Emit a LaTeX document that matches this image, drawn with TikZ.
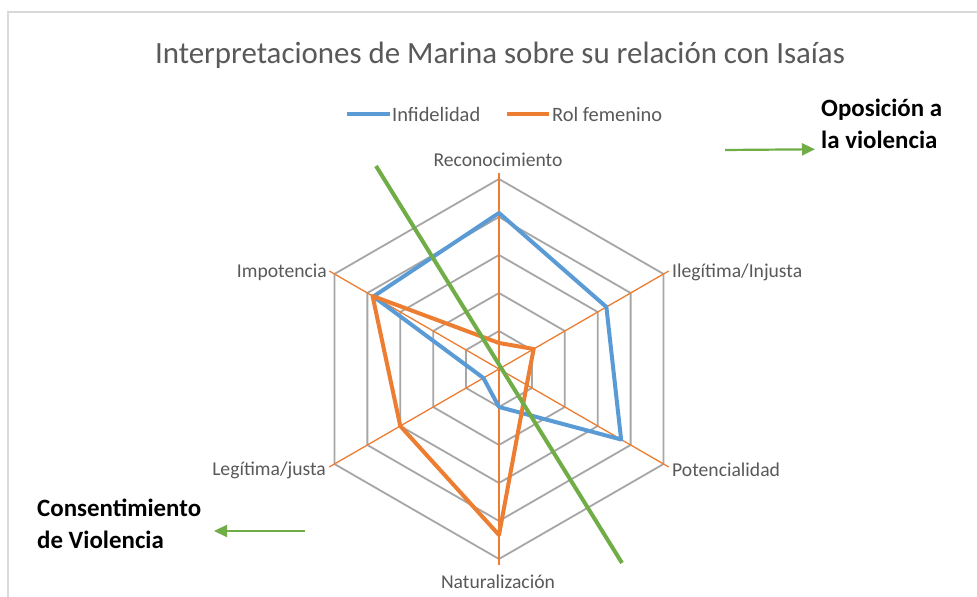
\documentclass[tikz,border=0pt]{standalone}
\usepackage{fontspec}
\setmainfont{Carlito}
\usetikzlibrary{arrows.meta,calc}
\definecolor{gridgray}{HTML}{A6A6A6}
\definecolor{axorange}{HTML}{ED7D31}
\definecolor{serblue}{HTML}{5B9BD5}
\definecolor{greenl}{HTML}{70AD47}
\definecolor{txtgray}{HTML}{595959}
\definecolor{framegray}{HTML}{D9D9D9}
\tikzset{
  gridline/.style={draw=gridgray, line width=1.8bp, line join=miter},
  spoke/.style={draw=axorange, line width=1.3bp},
  blueser/.style={draw=serblue, line width=4bp, line join=round, line cap=round},
  orangeser/.style={draw=axorange, line width=4bp, line join=round, line cap=round},
  greenline/.style={draw=greenl, line width=4bp},
  greenarrow/.style={draw=greenl, line width=2.2bp, -{Triangle[length=13bp,width=12bp]}},
  axlabel/.style={text=txtgray, font=\fontsize{19.7}{22}\selectfont, inner sep=0pt},
  leglabel/.style={text=txtgray, font=\fontsize{20.5}{23}\selectfont, inner sep=0pt},
  note/.style={text=black, font=\bfseries\fontsize{25}{32}\selectfont, align=left, inner sep=0pt},
}
\begin{document}
\begin{tikzpicture}[x=1bp,y=1bp]
\useasboundingbox (0,0) rectangle (977,597);
\fill[white] (0,0) rectangle (977,597);
\draw[framegray, line width=1.5bp] (8,0) -- (8,585) -- (977,585);

% title
\node[text=txtgray, font=\fontsize{31}{36}\selectfont, inner sep=0pt] (title) at (500,542) {Interpretaciones de Marina sobre su relación con Isaías};

% legend
\coordinate (lb1) at (347,483); \coordinate (lb2) at (390,483);
\draw[blueser, line cap=butt] (lb1) -- (lb2);
\node[leglabel, anchor=west] (legb) at (392,483) {Infidelidad};
\coordinate (lo1) at (507,483); \coordinate (lo2) at (549,483);
\draw[orangeser, line cap=butt] (lo1) -- (lo2);
\node[leglabel, anchor=west] (lego) at (552,483) {Rol femenino};

\begin{scope}[shift={(499,228)}]
  \coordinate (C) at (0,0);
  % rings
  \foreach \r in {38,76,114,152,190} {
    \draw[gridline] (90:\r bp) -- (30:\r bp) -- (-30:\r bp) -- (-90:\r bp) -- (210:\r bp) -- (150:\r bp) -- cycle;
  }
  % spokes
  \foreach \a/\n in {90/rec,30/ile,-30/pot,-90/nat,210/leg,150/imp} {
    \coordinate (\n) at (\a:196bp);
    \draw[spoke] (C) -- (\n);
  }
  % blue series
  \coordinate (b1) at (90:156bp);
  \coordinate (b2) at (30:124bp);
  \coordinate (b3) at (-30:141bp);
  \coordinate (b4) at (-90:38bp);
  \coordinate (b5) at (210:18bp);
  \coordinate (b6) at (150:145bp);
  \draw[blueser] (b1) -- (b2) -- (b3) -- (b4) -- (b5) -- (b6) -- cycle;
  % orange series
  \coordinate (o1) at (90:26bp);
  \coordinate (o2) at (30:40bp);
  \coordinate (o3) at (-30:32bp);
  \coordinate (o4) at (-90:166bp);
  \coordinate (o5) at (210:114bp);
  \coordinate (o6) at (150:146bp);
  \draw[orangeser] (o1) -- (o2) -- (o3) -- (o4) -- (o5) -- (o6) -- cycle;
\end{scope}

% axis labels
\node[axlabel] (lrec) at (498,437) {Reconocimiento};
\node[axlabel, anchor=west] (lile) at (672,325) {Ilegítima/Injusta};
\node[axlabel, anchor=west] (lpot) at (672,127) {Potencialidad};
\node[axlabel] (lnat) at (498,15) {Naturalización};
\node[axlabel, anchor=east] (lleg) at (326,127) {Legítima/justa};
\node[axlabel, anchor=east] (limp) at (327,325) {Impotencia};

% green line
\coordinate (g1) at (376,431);
\coordinate (g2) at (622,34);
\draw[greenline] (g1) -- (g2);

% annotations
\node[note, anchor=west] (opos) at (821,473) {Oposición a\\la violencia};
\coordinate (ga1) at (725,447);
\coordinate (ga2) at (815,447.7);
\draw[greenarrow] (ga1) -- (ga2);

\node[note, anchor=west] (cons) at (37,73) {Consentimiento\\de Violencia};
\coordinate (gb1) at (305,66);
\coordinate (gb2) at (214,66);
\draw[greenarrow] (gb1) -- (gb2);
\end{tikzpicture}
\end{document}
